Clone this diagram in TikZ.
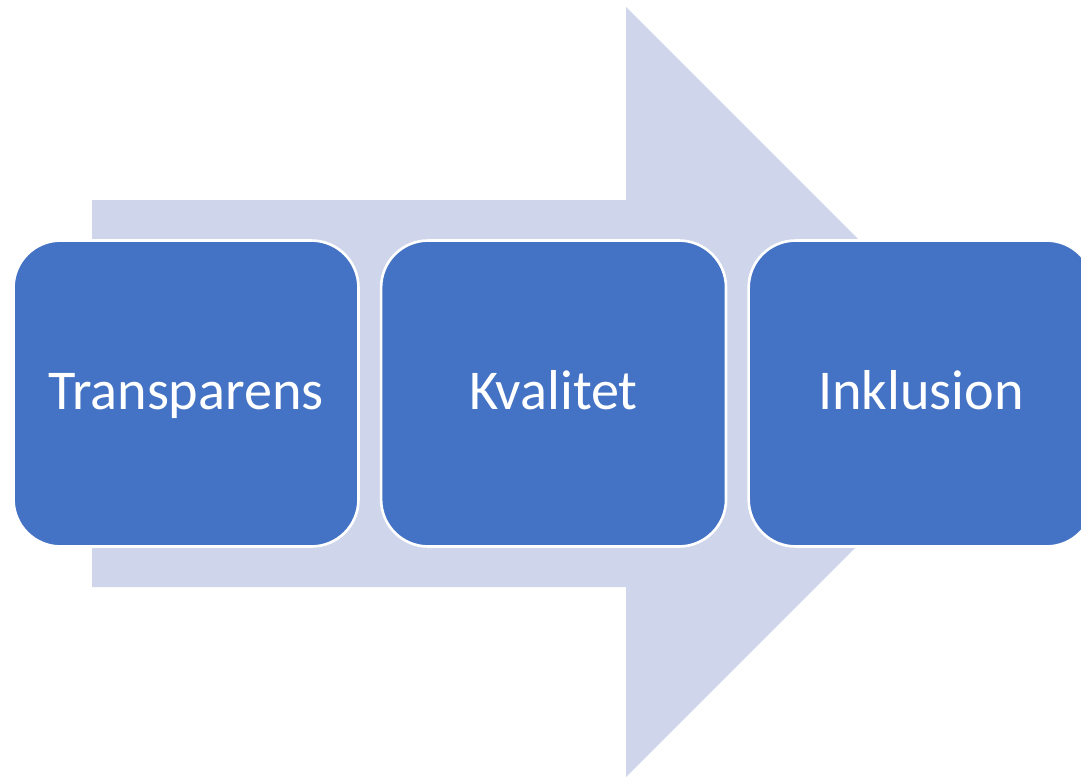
\documentclass[tikz,border=0pt]{standalone}
\usepackage{fontspec}
\setmainfont{Carlito}
\usetikzlibrary{positioning}
\definecolor{boxblue}{HTML}{4472C4}
\definecolor{arrowgray}{HTML}{CFD5EA}
\tikzset{
    stepbox/.style={draw=white,line width=1.5pt,fill=boxblue,rounded corners=0.94cm,minimum width=6.9cm,minimum height=6.12cm,text=white,font=\fontsize{32}{38}\selectfont,text height=19.5pt,text depth=1.5pt,inner sep=0pt}
}

\begin{document}
\begin{tikzpicture}[x=0.02cm,y=-0.02cm]
            \useasboundingbox (0,0) rectangle (1081,777);
            \fill[arrowgray] (92,200)--(626,200)--(626,7)--(1011,392)--(626,777)--(626,587)--(92,587)--cycle;
            \node[stepbox] (trans) at (186,393.5) {Transparens};
            \node[stepbox,right=0.4cm of trans] (kval) {Kvalitet};
            \node[stepbox,right=0.4cm of kval] (inkl) {Inklusion};
        \end{tikzpicture}
\end{document}
